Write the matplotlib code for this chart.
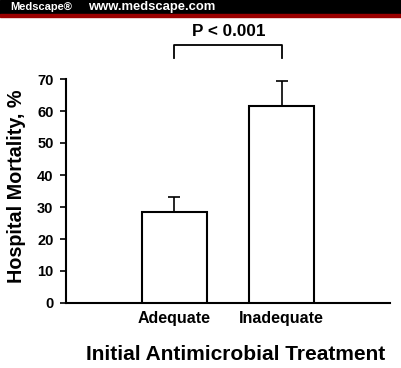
import matplotlib
matplotlib.use("Agg")
import matplotlib.pyplot as plt
from matplotlib.patches import Rectangle

categories = ["Adequate", "Inadequate"]
mortality = [28.4, 61.7]
error_upper = [4.7, 7.8]
yticks = [0, 10, 20, 30, 40, 50, 60, 70]
p_label = "P < 0.001"

plt.rcParams['font.family'] = ['Liberation Sans', 'DejaVu Sans']
plt.rcParams['font.weight'] = 'bold'

W, H = 401, 368
fig = plt.figure(figsize=(W/100, H/100), dpi=100)
fig.patch.set_facecolor('white')

# header bar
fig.patches.append(Rectangle((0, 1-14/H), 1, 14/H, transform=fig.transFigure, color='black', zorder=0))
fig.patches.append(Rectangle((0, 1-17/H), 1, 3/H, transform=fig.transFigure, color='#9a0000', zorder=0))
fig.text(10/W, 1-7/H, "Medscape®", color='white', fontsize=8, fontweight='bold', va='center', ha='left')
fig.text(88/W, 1-7/H, "www.medscape.com", color='white', fontsize=9.4, fontweight='bold', va='center', ha='left')

# axes: x from 66 to 390 px, y from 79 (70) to 303 (0)
ax = fig.add_axes([66/W, 1-303/H, (390-66)/W, (303-79)/H])
positions = [1.67, 3.33]
ax.bar(positions, mortality, width=1.0, color='white', edgecolor='black', linewidth=1.5, zorder=3)
ax.errorbar(positions, mortality, yerr=[[0, 0], error_upper], fmt='none', ecolor='black',
            elinewidth=1.2, capsize=4, capthick=1.2, zorder=2)
ax.set_xlim(0, 5)
ax.set_ylim(0, 70)
ax.set_yticks(yticks)
ax.set_yticklabels([str(t) for t in yticks], fontsize=10.5, fontweight='bold')
ax.set_xticks(positions)
ax.set_xticklabels(categories, fontsize=11.5, fontweight='bold')
ax.tick_params(axis='x', length=0, pad=6)
ax.tick_params(axis='y', direction='out', length=4, width=1.2, pad=5)
for s in ['top', 'right']:
    ax.spines[s].set_visible(False)
for s in ['left', 'bottom']:
    ax.spines[s].set_linewidth(1.5)

# significance bracket
yb_top, yb_leg = 80.6, 76.6
ax.plot([positions[0], positions[0], positions[1], positions[1]],
        [yb_leg, yb_top, yb_top, yb_leg], color='black', lw=1.3, clip_on=False)
fig.text(229/W, 1-36/H, p_label, ha='center', va='baseline', fontsize=12.3, fontweight='bold')

fig.text(17/W, 1-186.5/H, "Hospital Mortality, %", rotation=90, ha='center', va='center',
         fontsize=14.2, fontweight='bold')
fig.text(235.5/W, 1-360/H, "Initial Antimicrobial Treatment", ha='center', va='baseline',
         fontsize=15, fontweight='bold')

fig.savefig("out.png", dpi=100)
